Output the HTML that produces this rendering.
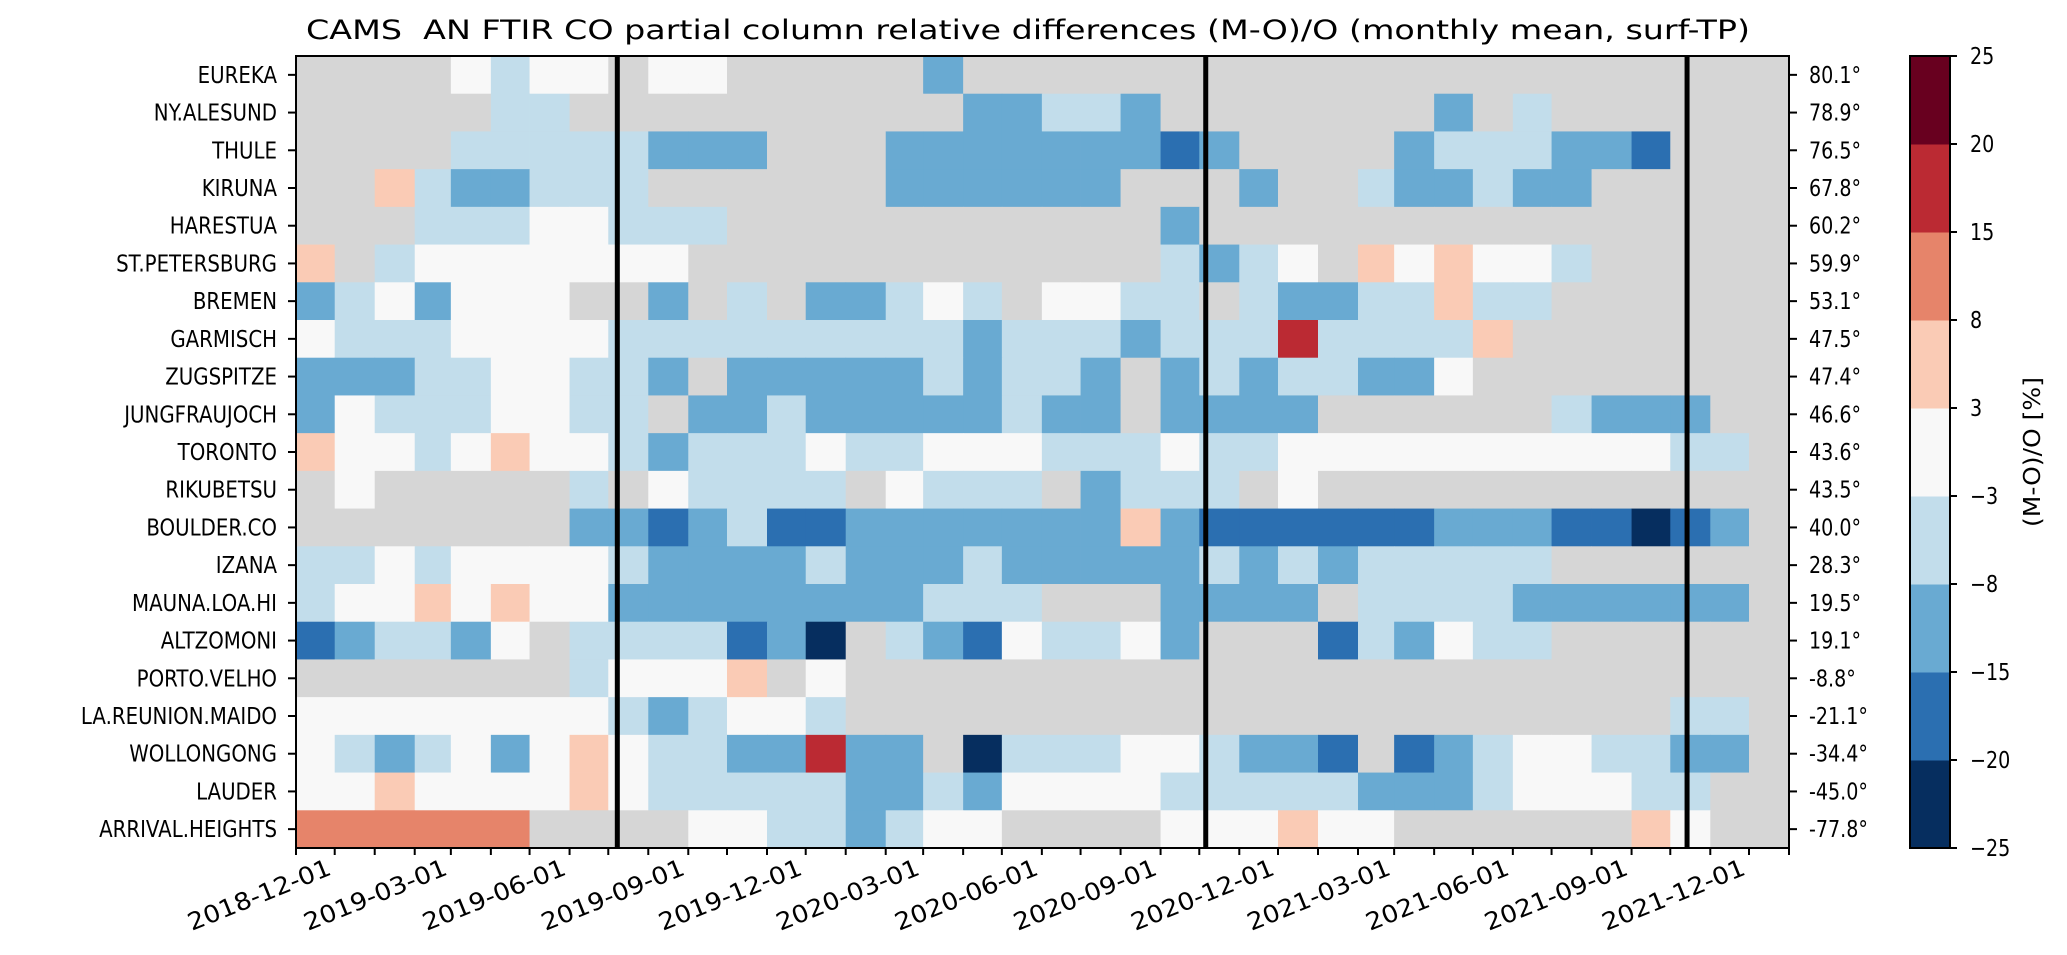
<!DOCTYPE html>
<html><head><meta charset="utf-8"><title>CAMS FTIR CO heatmap</title>
<style>
html,body{margin:0;padding:0;background:#fff;}
svg{display:block;font-family:"DejaVu Sans","Liberation Sans",sans-serif;}
</style></head>
<body>
<svg id="chart" width="2067" height="955" viewBox="0 0 2067 955" xmlns="http://www.w3.org/2000/svg">
<text x="1028" y="39" text-anchor="middle" font-size="27" textLength="1444" lengthAdjust="spacingAndGlyphs" xml:space="preserve">CAMS  AN FTIR CO partial column relative differences (M-O)/O (monthly mean, surf-TP)</text>
</svg>
<script>
const _ = null;
const stations = ["EUREKA","NY.ALESUND","THULE","KIRUNA","HARESTUA","ST.PETERSBURG","BREMEN","GARMISCH","ZUGSPITZE","JUNGFRAUJOCH","TORONTO","RIKUBETSU","BOULDER.CO","IZANA","MAUNA.LOA.HI","ALTZOMONI","PORTO.VELHO","LA.REUNION.MAIDO","WOLLONGONG","LAUDER","ARRIVAL.HEIGHTS"];
const latitudes = ["80.1°","78.9°","76.5°","67.8°","60.2°","59.9°","53.1°","47.5°","47.4°","46.6°","43.6°","43.5°","40.0°","28.3°","19.5°","19.1°","-8.8°","-21.1°","-34.4°","-45.0°","-77.8°"];
const firstMonth = "2018-11";
const monthCount = 38;
const xTickLabels = ["2018-12-01","2019-03-01","2019-06-01","2019-09-01","2019-12-01","2020-03-01","2020-06-01","2020-09-01","2020-12-01","2021-03-01","2021-06-01","2021-09-01","2021-12-01"];
const markerDates = ["2019-07-08","2020-10-06","2021-10-14"];
const levels = [-25,-20,-15,-8,-3,3,8,15,20,25];
const levelColors = ["#062e5f","#2b6fb1","#69aad2","#c2ddeb","#f8f8f8","#facbb5","#e6846a","#bb2a33","#68001f"];
const values = [
[_,_,_,_,0,-5,0,0,_,0,0,_,_,_,_,_,-11,_,_,_,_,_,_,_,_,_,_,_,_,_,_,_,_,_,_,_,_,_],
[_,_,_,_,_,-5,-5,_,_,_,_,_,_,_,_,_,_,-11,-11,-5,-5,-11,_,_,_,_,_,_,_,-11,_,-5,_,_,_,_,_,_],
[_,_,_,_,-5,-5,-5,-5,-5,-11,-11,-11,_,_,_,-11,-11,-11,-11,-11,-11,-11,-17,-11,_,_,_,_,-11,-5,-5,-5,-11,-11,-17,_,_,_],
[_,_,5,-5,-11,-11,-5,-5,-5,_,_,_,_,_,_,-11,-11,-11,-11,-11,-11,_,_,_,-11,_,_,-5,-11,-11,-5,-11,-11,_,_,_,_,_],
[_,_,_,-5,-5,-5,0,0,-5,-5,-5,_,_,_,_,_,_,_,_,_,_,_,-11,_,_,_,_,_,_,_,_,_,_,_,_,_,_,_],
[5,_,-5,0,0,0,0,0,0,0,_,_,_,_,_,_,_,_,_,_,_,_,-5,-11,-5,0,_,5,0,5,0,0,-5,_,_,_,_,_],
[-11,-5,0,-11,0,0,0,_,_,-11,_,-5,_,-11,-11,-5,0,-5,_,0,0,-5,-5,_,-5,-11,-11,-5,-5,5,-5,-5,_,_,_,_,_,_],
[0,-5,-5,-5,0,0,0,0,-5,-5,-5,-5,-5,-5,-5,-5,-5,-11,-5,-5,-5,-11,-5,-5,-5,17,-5,-5,-5,-5,5,_,_,_,_,_,_,_],
[-11,-11,-11,-5,-5,0,0,-5,-5,-11,_,-11,-11,-11,-11,-11,-5,-11,-5,-5,-11,_,-11,-5,-11,-5,-5,-11,-11,0,_,_,_,_,_,_,_,_],
[-11,0,-5,-5,-5,0,0,-5,-5,_,-11,-11,-5,-11,-11,-11,-11,-11,-5,-11,-11,_,-11,-11,-11,-11,_,_,_,_,_,_,-5,-11,-11,-11,_,_],
[5,0,0,-5,0,5,0,0,-5,-11,-5,-5,-5,0,-5,-5,0,0,0,-5,-5,-5,0,-5,-5,0,0,0,0,0,0,0,0,0,0,-5,-5,_],
[_,0,_,_,_,_,_,-5,_,0,-5,-5,-5,-5,_,0,-5,-5,-5,_,-11,-5,-5,-5,_,0,_,_,_,_,_,_,_,_,_,_,_,_],
[_,_,_,_,_,_,_,-11,-11,-17,-11,-5,-17,-17,-11,-11,-11,-11,-11,-11,-11,5,-11,-17,-17,-17,-17,-17,-17,-11,-11,-11,-17,-17,-22,-17,-11,_],
[-5,-5,0,-5,0,0,0,0,-5,-11,-11,-11,-11,-5,-11,-11,-11,-5,-11,-11,-11,-11,-11,-5,-11,-5,-11,-5,-5,-5,-5,-5,_,_,_,_,_,_],
[-5,0,0,5,0,5,0,0,-11,-11,-11,-11,-11,-11,-11,-11,-5,-5,-5,_,_,_,-11,-11,-11,-11,_,-5,-5,-5,-5,-11,-11,-11,-11,-11,-11,_],
[-17,-11,-5,-5,-11,0,_,-5,-5,-5,-5,-17,-11,-22,_,-5,-11,-17,0,-5,-5,0,-11,_,_,_,-17,-5,-11,0,-5,-5,_,_,_,_,_,_],
[_,_,_,_,_,_,_,-5,0,0,0,5,_,0,_,_,_,_,_,_,_,_,_,_,_,_,_,_,_,_,_,_,_,_,_,_,_,_],
[0,0,0,0,0,0,0,0,-5,-11,-5,0,0,-5,_,_,_,_,_,_,_,_,_,_,_,_,_,_,_,_,_,_,_,_,_,-5,-5,_],
[0,-5,-11,-5,0,-11,0,5,0,-5,-5,-11,-11,17,-11,-11,_,-22,-5,-5,-5,0,0,-5,-11,-11,-17,_,-17,-11,-5,0,0,-5,-5,-11,-11,_],
[0,0,5,0,0,0,0,5,0,-5,-5,-5,-5,-5,-11,-11,-5,-11,0,0,0,0,-5,-5,-5,-5,-5,-11,-11,-11,-5,0,0,0,-5,-5,_,_],
[11,11,11,11,11,11,_,_,_,_,0,0,-5,-5,-11,-5,0,0,_,_,_,_,0,0,0,5,0,0,_,_,_,_,_,_,5,0,_,_]
];
</script>
<script>
const svg = document.getElementById('chart');
const NS = 'http://www.w3.org/2000/svg';
function mk(tag, attrs, parent){
  const e = document.createElementNS(NS, tag);
  for (const k in attrs) e.setAttribute(k, attrs[k]);
  (parent || svg).appendChild(e);
  return e;
}
const PL = 296, PR = 1789, PT = 56, PB = 848;
const rowH = (PB - PT) / stations.length;
const [fy, fm] = firstMonth.split('-').map(Number);
const t0 = Date.UTC(fy, fm - 1, 1);
const t1 = Date.UTC(fy, fm - 1 + monthCount, 1);
function xOf(ms){ return PL + (ms - t0) / (t1 - t0) * (PR - PL); }
function xDate(s){ const [y,m,d] = s.split('-').map(Number); return xOf(Date.UTC(y, m-1, d)); }
function monthStart(i){ return Date.UTC(fy, fm - 1 + i, 1); }
function yOf(r){ return PT + r * rowH; }
function colorOf(v){
  if (v === null) return '#d6d6d6';
  for (let i = 0; i < levelColors.length; i++) if (v < levels[i+1]) return levelColors[i];
  return levelColors[levelColors.length-1];
}

const cells = mk('g', {});


values.forEach((row, r) => {
  row.forEach((v, c) => {
    const x0 = xOf(monthStart(c)), x1 = xOf(monthStart(c+1));
    const rc = mk('rect', {x: x0.toFixed(2), y: yOf(r).toFixed(2), width: (x1-x0+0.4).toFixed(2), height: (rowH+0.4).toFixed(2), fill: colorOf(v)}, cells);
    
    
  });
});

markerDates.forEach((d, i) => {
  const x = xDate(d);
  const ln = mk('line', {x1: x, x2: x, y1: PT, y2: PB, stroke: '#000', 'stroke-width': 5});
  
  
});

const fr = mk('rect', {x: PL, y: PT, width: PR-PL, height: PB-PT, fill: 'none', stroke: '#000', 'stroke-width': 2});



stations.forEach((s, r) => {
  const yc = yOf(r) + rowH/2;
  mk('line', {x1: PL-8, x2: PL, y1: yc, y2: yc, stroke: '#000', 'stroke-width': 2});
  mk('line', {x1: PR, x2: PR+8, y1: yc, y2: yc, stroke: '#000', 'stroke-width': 2});
  const t = mk('text', {transform: `translate(277,${yc+8}) scale(0.86,1)`, 'text-anchor': 'end', 'font-size': 23});
  t.textContent = s;
  
  
  const t2 = mk('text', {transform: `translate(1809,${yc+8}) scale(0.83,1)`, 'font-size': 23});
  t2.textContent = latitudes[r];
  
  
});

for (let i = 0; i <= monthCount; i++) {
  const x = xOf(monthStart(i));
  mk('line', {x1: x, x2: x, y1: PB, y2: PB+7, stroke: '#000', 'stroke-width': 2});
}
xTickLabels.forEach(s => {
  const x = xDate(s);
  const t = mk('text', {transform: `translate(${x-2},${PB+26}) rotate(-22)`, 'text-anchor': 'end', 'font-size': 24, textLength: 152, lengthAdjust: 'spacingAndGlyphs'});
  t.textContent = s;
  
  
});

const CL = 1910, CR = 1950;
const segH = (PB - PT) / levelColors.length;
const cb = mk('g', {});


levelColors.forEach((col, i) => {
  const y = PB - (i+1)*segH;
  mk('rect', {x: CL, y: y, width: CR-CL, height: segH+0.5, fill: col}, cb);
});
mk('rect', {x: CL, y: PT, width: CR-CL, height: PB-PT, fill: 'none', stroke: '#000', 'stroke-width': 2}, cb);
levels.forEach((v, i) => {
  const y = PB - i*segH;
  mk('line', {x1: CR, x2: CR+7, y1: y, y2: y, stroke: '#000', 'stroke-width': 2}, cb);
  const t = mk('text', {transform: `translate(1970,${y+8}) scale(0.83,1)`, 'font-size': 23}, cb);
  t.textContent = v < 0 ? '\u2212' + Math.abs(v) : String(v);
  
  
});
const cl = mk('text', {transform: 'translate(2040,452) rotate(-90)', 'text-anchor': 'middle', 'font-size': 23, textLength: 150, lengthAdjust: 'spacingAndGlyphs'});
cl.textContent = '(M-O)/O [%]';


</script>
</body></html>
